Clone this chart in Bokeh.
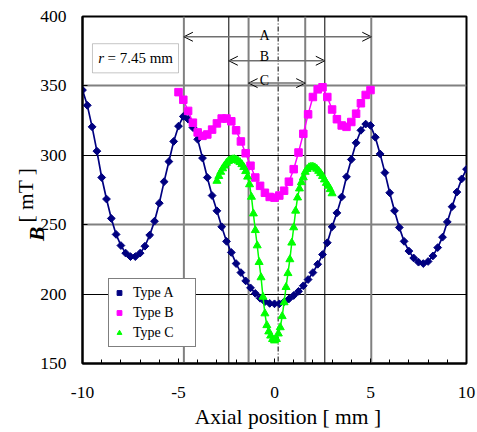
import numpy as np
from bokeh.plotting import figure
from bokeh.embed import file_html
from bokeh.resources import INLINE
from bokeh.models import (Arrow, OpenHead, Span, Label, Legend, LegendItem, Grid,
                          FixedTicker, BoxAnnotation)

# ---------------- data ----------------
x_a = np.linspace(-10, 10, 81)
type_a = [347, 336, 320.5, 303, 284, 268.5, 254.5, 243, 235, 229.5,
          227, 227, 229.5, 234.5, 242.5, 252.5, 265.5, 281, 295.5, 310,
          321, 328, 326, 320, 311.5, 298, 284, 271, 260, 248.5,
          238, 230, 222, 215.5, 209.5, 204.5, 200.5, 197, 194.5, 193.3,
          193, 193, 194.5, 196.5, 199, 202, 206, 210.5, 215.5, 221.5,
          228.5, 237, 248.5, 258.5, 270, 284.5, 297, 309, 318, 322.5,
          321.5, 313, 301, 287.5, 273, 260, 248, 238, 231, 226,
          223, 222, 223.5, 227.5, 233.5, 241, 252, 263, 273.5, 283, 290]

x_b = np.linspace(-5, 5, 41)
type_b = [345.5, 340, 332, 323.5, 316.5, 314, 315, 318.5, 323, 326.5,
          326.5, 324.5, 318, 310, 301.5, 292.5, 284, 278, 273, 270,
          269.5, 271, 274.5, 281, 290, 302, 315.5, 329.5, 342, 347.5,
          349, 342, 333, 326, 321.5, 320.5, 324, 330, 337.5, 343.5, 347]

x_c = np.linspace(-3, 3, 61)
type_c = [281.5, 285, 288, 290.5, 292.5, 294.5, 295.8, 296.5, 297, 297.2,
          296.8, 296, 295, 293.5, 291.5, 288.5, 284.5, 279, 270, 258,
          246, 235, 223, 212, 198, 186, 177.5, 173, 170, 167.5,
          166.5, 167.5, 171.5, 176, 184, 194, 205, 215, 225, 237,
          248, 260, 269.5, 276, 280.5, 284, 288, 290, 291.3, 291.7,
          291.7, 291.2, 290.2, 288.7, 287, 285, 282.5, 280, 278, 275.5, 272.5]

# region boundaries (axial positions) and labels
region_names = ["A", "B", "C"]
region_left = [-4.72, -2.38, -1.35]
region_right = [5.04, 2.62, 1.60]
region_level = [385.4, 368.1, 352.0]
region_label_y = [386.1, 371.2, 354.2]
region_label_x = -0.52
center_line = 0.19
x_ticks = [-10, -5, 0, 5, 10]
y_ticks = [150, 200, 250, 300, 350, 400]

FONT = "Liberation Serif"
NB = "\u00a0"

p = figure(frame_width=384, frame_height=347, x_range=(-10, 10), y_range=(150, 400),
           output_backend="svg", toolbar_location=None,
           min_border_left=82, min_border_right=11, min_border_top=16, min_border_bottom=40,
           background_fill_color="white", border_fill_color="white")

p.outline_line_color = "black"
p.outline_line_width = 2

# grids
p.xgrid.visible = False
p.ygrid.ticker = FixedTicker(ticks=[200, 300])
p.ygrid.grid_line_color = "black"
p.ygrid.grid_line_width = 1
g2 = Grid(dimension=1, ticker=FixedTicker(ticks=[250, 350]),
          grid_line_color="#808080", grid_line_width=2)
p.add_layout(g2)

# axes
p.xaxis.ticker = FixedTicker(ticks=x_ticks, minor_ticks=list(range(-10, 11)))
p.xaxis.major_label_overrides = {-10: "-10", -5: "-5", 0: "0", 5: "5", 10: "10"}
p.yaxis.ticker = FixedTicker(ticks=y_ticks)
for ax in (p.xaxis[0], p.yaxis[0]):
    ax.axis_line_width = 2
    ax.axis_line_color = "black"
    ax.major_tick_in = 5
    ax.major_tick_out = 0
    ax.minor_tick_in = 4
    ax.minor_tick_out = 0
    ax.major_tick_line_color = "black"
    ax.minor_tick_line_color = "black"
    ax.major_label_text_font = FONT
    ax.major_label_text_font_size = "17.5px"
    ax.major_label_text_color = "black"
p.xaxis.major_label_standoff = 23
p.yaxis.major_label_standoff = 16
p.xaxis.axis_label = NB * 5 + "Axial position [ mm ]"
p.xaxis.axis_label_text_font = FONT
p.xaxis.axis_label_text_font_size = "21.5px"
p.xaxis.axis_label_text_font_style = "normal"
p.xaxis.axis_label_text_color = "black"
p.xaxis.axis_label_standoff = 4

# vertical boundary lines
line_styles = {-4.72: ("#808080", 2), -2.38: ("black", 1), -1.35: ("#808080", 2),
               1.60: ("#808080", 2), 2.62: ("black", 1), 5.04: ("#808080", 2)}
for xv in region_left + region_right:
    c, w = line_styles[xv]
    p.add_layout(Span(location=xv, dimension="height", line_color=c, line_width=w,
                      level="underlay"))
p.add_layout(Span(location=center_line, dimension="height", line_color="black",
                  line_width=1, line_dash="5 2 1 2", level="underlay"))

# arrows
for name, xl, xr, yl, ly in zip(region_names, region_left, region_right, region_level,
                                region_label_y):
    p.add_layout(Arrow(x_start=xl, x_end=xr, y_start=yl, y_end=yl,
                       line_color="#707070", line_width=1.5,
                       start=OpenHead(size=9, line_width=1, line_color="black"),
                       end=OpenHead(size=9, line_width=1, line_color="black")))
    p.add_layout(Label(x=region_label_x, y=ly, text=name, text_align="center",
                       text_baseline="alphabetic", text_font=FONT, text_font_size="14px",
                       text_color="black"))

# data
ra_l = p.line(x_a, type_a, line_color="#000080", line_width=1.7)
ra = p.scatter(x_a, type_a, marker="square", angle=np.pi / 4, size=5.5,
               fill_color="#000080", line_color="#000080")
rb_l = p.line(x_b, type_b, line_color="#FF00FF", line_width=1.5)
rb = p.scatter(x_b, type_b, marker="square", size=7.5,
               fill_color="#FF00FF", line_color="#FF00FF")
rc_l = p.line(x_c, type_c, line_color="#00FF00", line_width=1.5)
rc = p.scatter(x_c, type_c, marker="triangle", size=8,
               fill_color="#00FF00", line_color="#00FF00")

# legend-only glyphs (larger markers as in the reference legend); NaN = not drawn in plot
la = p.scatter([np.nan], [np.nan], marker="square", angle=np.pi / 4, size=8.5,
               fill_color="#000080", line_color="#000080")
lb = p.scatter([np.nan], [np.nan], marker="square", size=10.5,
               fill_color="#FF00FF", line_color="#FF00FF")
lc = p.scatter([np.nan], [np.nan], marker="triangle", size=12,
               fill_color="#00FF00", line_color="#00FF00")

legend = Legend(items=[LegendItem(label="Type A" + NB * 5, renderers=[la]),
                       LegendItem(label="Type B" + NB * 5, renderers=[lb]),
                       LegendItem(label="Type C" + NB * 5, renderers=[lc])],
                location=(26, 16), orientation="vertical",
                label_text_font=FONT, label_text_font_size="14px",
                label_text_color="black",
                border_line_color="black", border_line_width=1,
                background_fill_color="white", background_fill_alpha=1,
                padding=4, spacing=1, margin=0,
                glyph_width=12, glyph_height=19, label_height=19,
                label_standoff=8)
p.add_layout(legend)

# r = 7.45 mm box
p.add_layout(BoxAnnotation(left=-9.48, right=-5.0, bottom=359.4, top=380.4,
                           fill_color="white", fill_alpha=1,
                           line_color="#404040", line_width=1))
p.add_layout(Label(x=-9.18, y=370.0, text="r", text_align="left", text_baseline="middle",
                   text_font=FONT, text_font_size="15px", text_font_style="italic",
                   text_color="black", level="overlay"))
p.add_layout(Label(x=-8.7, y=370.0, text="= 7.45 mm", text_align="left",
                   text_baseline="middle", text_font=FONT, text_font_size="15px",
                   text_color="black", level="overlay"))

# y axis label: "[ mT ]" in the left side panel, bold italic "B" in the (thin) top panel
p.add_layout(Label(x=12, y=251.5, x_units="screen", text="[ mT ]",
                   angle=np.pi / 2, text_align="left", text_baseline="middle",
                   text_font=FONT, text_font_size="21.5px",
                   text_color="black"), "left")
p.add_layout(Label(x=-46, y=238.2, x_units="screen", text="B",
                   angle=np.pi / 2, text_align="left", text_baseline="middle",
                   text_font=FONT, text_font_size="21.5px", text_font_style="bold italic",
                   text_color="black"), "above")

open("out.html", "w").write(file_html(p, INLINE))
